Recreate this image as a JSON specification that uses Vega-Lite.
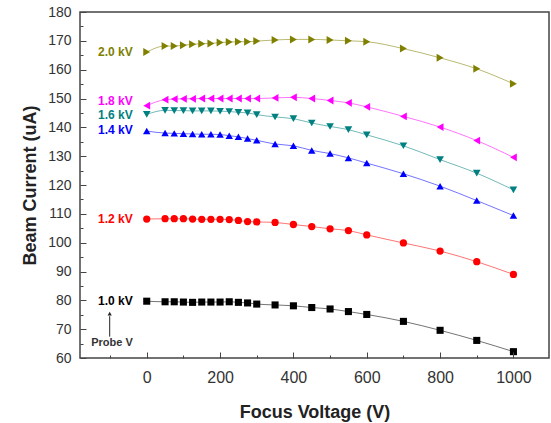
{
  "$schema": "https://vega.github.io/schema/vega-lite/v6.json",
  "width": 469,
  "height": 346,
  "autosize": "none",
  "padding": {"left": 80, "top": 12, "right": 2, "bottom": 65},
  "config": {
    "font": "Liberation Sans",
    "view": {"stroke": "#444444", "strokeWidth": 1.5}
  },
  "datasets": {
    "series": [
      {"kv": "1.0 kV", "v": 0, "i": 79.7}, {"kv": "1.0 kV", "v": 50, "i": 79.5}, {"kv": "1.0 kV", "v": 75, "i": 79.5}, {"kv": "1.0 kV", "v": 100, "i": 79.4}, {"kv": "1.0 kV", "v": 125, "i": 79.3}, {"kv": "1.0 kV", "v": 150, "i": 79.4}, {"kv": "1.0 kV", "v": 175, "i": 79.4}, {"kv": "1.0 kV", "v": 200, "i": 79.4}, {"kv": "1.0 kV", "v": 225, "i": 79.5}, {"kv": "1.0 kV", "v": 250, "i": 79.3}, {"kv": "1.0 kV", "v": 275, "i": 79.1}, {"kv": "1.0 kV", "v": 300, "i": 78.7}, {"kv": "1.0 kV", "v": 350, "i": 78.4}, {"kv": "1.0 kV", "v": 400, "i": 78.1}, {"kv": "1.0 kV", "v": 450, "i": 77.5}, {"kv": "1.0 kV", "v": 500, "i": 77.0}, {"kv": "1.0 kV", "v": 550, "i": 76.1}, {"kv": "1.0 kV", "v": 600, "i": 75.1}, {"kv": "1.0 kV", "v": 700, "i": 72.7}, {"kv": "1.0 kV", "v": 800, "i": 69.6}, {"kv": "1.0 kV", "v": 900, "i": 66.1}, {"kv": "1.0 kV", "v": 1000, "i": 62.2},
      {"kv": "1.2 kV", "v": 0, "i": 108.2}, {"kv": "1.2 kV", "v": 50, "i": 108.3}, {"kv": "1.2 kV", "v": 75, "i": 108.3}, {"kv": "1.2 kV", "v": 100, "i": 108.3}, {"kv": "1.2 kV", "v": 125, "i": 108.2}, {"kv": "1.2 kV", "v": 150, "i": 108.1}, {"kv": "1.2 kV", "v": 175, "i": 108.1}, {"kv": "1.2 kV", "v": 200, "i": 108.1}, {"kv": "1.2 kV", "v": 225, "i": 108.0}, {"kv": "1.2 kV", "v": 250, "i": 107.7}, {"kv": "1.2 kV", "v": 275, "i": 107.3}, {"kv": "1.2 kV", "v": 300, "i": 107.2}, {"kv": "1.2 kV", "v": 350, "i": 107.0}, {"kv": "1.2 kV", "v": 400, "i": 106.3}, {"kv": "1.2 kV", "v": 450, "i": 105.6}, {"kv": "1.2 kV", "v": 500, "i": 104.8}, {"kv": "1.2 kV", "v": 550, "i": 104.2}, {"kv": "1.2 kV", "v": 600, "i": 102.7}, {"kv": "1.2 kV", "v": 700, "i": 99.9}, {"kv": "1.2 kV", "v": 800, "i": 97.1}, {"kv": "1.2 kV", "v": 900, "i": 93.4}, {"kv": "1.2 kV", "v": 1000, "i": 89.0},
      {"kv": "1.4 kV", "v": 0, "i": 138.7}, {"kv": "1.4 kV", "v": 50, "i": 138.0}, {"kv": "1.4 kV", "v": 75, "i": 137.9}, {"kv": "1.4 kV", "v": 100, "i": 137.8}, {"kv": "1.4 kV", "v": 125, "i": 137.7}, {"kv": "1.4 kV", "v": 150, "i": 137.6}, {"kv": "1.4 kV", "v": 175, "i": 137.6}, {"kv": "1.4 kV", "v": 200, "i": 137.5}, {"kv": "1.4 kV", "v": 225, "i": 137.1}, {"kv": "1.4 kV", "v": 250, "i": 136.7}, {"kv": "1.4 kV", "v": 275, "i": 136.1}, {"kv": "1.4 kV", "v": 300, "i": 135.5}, {"kv": "1.4 kV", "v": 350, "i": 134.2}, {"kv": "1.4 kV", "v": 400, "i": 133.6}, {"kv": "1.4 kV", "v": 450, "i": 132.0}, {"kv": "1.4 kV", "v": 500, "i": 130.9}, {"kv": "1.4 kV", "v": 550, "i": 129.4}, {"kv": "1.4 kV", "v": 600, "i": 127.6}, {"kv": "1.4 kV", "v": 700, "i": 123.9}, {"kv": "1.4 kV", "v": 800, "i": 119.6}, {"kv": "1.4 kV", "v": 900, "i": 114.6}, {"kv": "1.4 kV", "v": 1000, "i": 109.4},
      {"kv": "1.6 kV", "v": 0, "i": 144.5}, {"kv": "1.6 kV", "v": 50, "i": 145.9}, {"kv": "1.6 kV", "v": 75, "i": 145.8}, {"kv": "1.6 kV", "v": 100, "i": 145.8}, {"kv": "1.6 kV", "v": 125, "i": 145.7}, {"kv": "1.6 kV", "v": 150, "i": 145.7}, {"kv": "1.6 kV", "v": 175, "i": 145.7}, {"kv": "1.6 kV", "v": 200, "i": 145.6}, {"kv": "1.6 kV", "v": 225, "i": 145.5}, {"kv": "1.6 kV", "v": 250, "i": 145.2}, {"kv": "1.6 kV", "v": 275, "i": 145.0}, {"kv": "1.6 kV", "v": 300, "i": 144.4}, {"kv": "1.6 kV", "v": 350, "i": 143.6}, {"kv": "1.6 kV", "v": 400, "i": 143.0}, {"kv": "1.6 kV", "v": 450, "i": 141.5}, {"kv": "1.6 kV", "v": 500, "i": 140.3}, {"kv": "1.6 kV", "v": 550, "i": 139.2}, {"kv": "1.6 kV", "v": 600, "i": 137.4}, {"kv": "1.6 kV", "v": 700, "i": 133.6}, {"kv": "1.6 kV", "v": 800, "i": 128.8}, {"kv": "1.6 kV", "v": 900, "i": 124.1}, {"kv": "1.6 kV", "v": 1000, "i": 118.3},
      {"kv": "1.8 kV", "v": 0, "i": 147.5}, {"kv": "1.8 kV", "v": 50, "i": 149.6}, {"kv": "1.8 kV", "v": 75, "i": 149.8}, {"kv": "1.8 kV", "v": 100, "i": 149.9}, {"kv": "1.8 kV", "v": 125, "i": 149.9}, {"kv": "1.8 kV", "v": 150, "i": 150.0}, {"kv": "1.8 kV", "v": 175, "i": 150.0}, {"kv": "1.8 kV", "v": 200, "i": 150.0}, {"kv": "1.8 kV", "v": 225, "i": 150.0}, {"kv": "1.8 kV", "v": 250, "i": 150.0}, {"kv": "1.8 kV", "v": 275, "i": 150.0}, {"kv": "1.8 kV", "v": 300, "i": 150.0}, {"kv": "1.8 kV", "v": 350, "i": 150.2}, {"kv": "1.8 kV", "v": 400, "i": 150.4}, {"kv": "1.8 kV", "v": 450, "i": 150.0}, {"kv": "1.8 kV", "v": 500, "i": 149.3}, {"kv": "1.8 kV", "v": 550, "i": 148.5}, {"kv": "1.8 kV", "v": 600, "i": 147.1}, {"kv": "1.8 kV", "v": 700, "i": 143.8}, {"kv": "1.8 kV", "v": 800, "i": 140.1}, {"kv": "1.8 kV", "v": 900, "i": 135.4}, {"kv": "1.8 kV", "v": 1000, "i": 129.6},
      {"kv": "2.0 kV", "v": 0, "i": 166.1}, {"kv": "2.0 kV", "v": 50, "i": 168.2}, {"kv": "2.0 kV", "v": 75, "i": 168.2}, {"kv": "2.0 kV", "v": 100, "i": 168.5}, {"kv": "2.0 kV", "v": 125, "i": 168.8}, {"kv": "2.0 kV", "v": 150, "i": 169.0}, {"kv": "2.0 kV", "v": 175, "i": 169.1}, {"kv": "2.0 kV", "v": 200, "i": 169.4}, {"kv": "2.0 kV", "v": 225, "i": 169.6}, {"kv": "2.0 kV", "v": 250, "i": 169.7}, {"kv": "2.0 kV", "v": 275, "i": 169.7}, {"kv": "2.0 kV", "v": 300, "i": 169.9}, {"kv": "2.0 kV", "v": 350, "i": 170.3}, {"kv": "2.0 kV", "v": 400, "i": 170.5}, {"kv": "2.0 kV", "v": 450, "i": 170.5}, {"kv": "2.0 kV", "v": 500, "i": 170.3}, {"kv": "2.0 kV", "v": 550, "i": 170.0}, {"kv": "2.0 kV", "v": 600, "i": 169.7}, {"kv": "2.0 kV", "v": 700, "i": 167.3}, {"kv": "2.0 kV", "v": 800, "i": 164.1}, {"kv": "2.0 kV", "v": 900, "i": 160.3}, {"kv": "2.0 kV", "v": 1000, "i": 155.1}
    ],
    "labels": [
      {"kv": "2.0 kV", "v": -38, "i": 166.1},
      {"kv": "1.8 kV", "v": -38, "i": 149.2},
      {"kv": "1.6 kV", "v": -38, "i": 144.3},
      {"kv": "1.4 kV", "v": -38, "i": 139.1},
      {"kv": "1.2 kV", "v": -38, "i": 108.2},
      {"kv": "1.0 kV", "v": -38, "i": 79.8}
    ],
    "probe": [{"t": "Probe V", "v": -38, "i": 65.1}],
    "arrow": [{"v": -101, "i": 67.4, "i2": 74.5}],
    "arrowhead": [{"v": -101, "i": 75.4}]
  },
  "resolve": {"axis": {"x": "independent", "y": "independent"}},
  "layer": [
    {
      "encoding": {
        "x": {
          "field": "v", "type": "quantitative",
          "scale": {"domain": [-182, 1097], "nice": false, "zero": false},
          "axis": {
            "orient": "bottom",
            "title": "Focus Voltage (V)",
            "titleFontSize": 18, "titleFontWeight": "bold", "titleColor": "#222", "titlePadding": 18,
            "values": [0, 200, 400, 600, 800, 1000],
            "format": "d",
            "labelOverlap": false,
            "labelFontSize": 16, "labelColor": "#333", "labelPadding": 11,
            "ticks": true, "tickSize": 6, "offset": -6,
            "tickColor": "#444", "tickWidth": 1,
            "domain": false, "grid": false, "zindex": 2
          }
        },
        "y": {
          "field": "i", "type": "quantitative",
          "scale": {"domain": [60, 180], "nice": false, "zero": false},
          "axis": {
            "orient": "left",
            "title": "Beam Current (uA)",
            "titleFontSize": 18, "titleFontWeight": "bold", "titleColor": "#222", "titlePadding": 8,
            "values": [60, 70, 80, 90, 100, 110, 120, 130, 140, 150, 160, 170, 180],
            "labelOverlap": false,
            "labelFontSize": 14, "labelColor": "#333", "labelPadding": 9,
            "ticks": true, "tickSize": 6, "offset": -6,
            "tickColor": "#444", "tickWidth": 1,
            "domain": false, "grid": false, "zindex": 2
          }
        }
      },
      "layer": [
        {
          "data": {"name": "series"},
          "mark": {"type": "line", "interpolate": "monotone", "strokeWidth": 1, "opacity": 0.55},
          "encoding": {
            "color": {
              "field": "kv", "type": "nominal",
              "scale": {"domain": ["1.0 kV", "1.2 kV", "1.4 kV", "1.6 kV", "1.8 kV", "2.0 kV"], "range": ["#000000", "#ff0000", "#0000ff", "#008080", "#ff00ff", "#808000"]},
              "legend": null
            }
          }
        },
        {
          "data": {"name": "series"},
          "mark": {"type": "point", "filled": true, "opacity": 1},
          "encoding": {
            "color": {"field": "kv", "type": "nominal", "legend": null},
            "shape": {
              "field": "kv", "type": "nominal",
              "scale": {"domain": ["1.0 kV", "1.2 kV", "1.4 kV", "1.6 kV", "1.8 kV", "2.0 kV"], "range": ["square", "circle", "triangle-up", "triangle-down", "triangle-left", "triangle-right"]},
              "legend": null
            },
            "size": {
              "field": "kv", "type": "nominal",
              "scale": {"domain": ["1.0 kV", "1.2 kV", "1.4 kV", "1.6 kV", "1.8 kV", "2.0 kV"], "range": [50, 64, 95, 95, 95, 95]},
              "legend": null
            }
          }
        },
        {
          "data": {"name": "labels"},
          "mark": {"type": "text", "align": "right", "baseline": "middle", "fontWeight": "bold", "fontSize": 12},
          "encoding": {
            "text": {"field": "kv"},
            "color": {"field": "kv", "type": "nominal", "legend": null}
          }
        },
        {
          "data": {"name": "probe"},
          "mark": {"type": "text", "align": "right", "baseline": "middle", "fontWeight": "bold", "fontSize": 11, "color": "#333"},
          "encoding": {
            "text": {"field": "t"}
          }
        },
        {
          "data": {"name": "arrow"},
          "mark": {"type": "rule", "color": "#222", "strokeWidth": 1},
          "encoding": {
            "y2": {"field": "i2"}
          }
        },
        {
          "data": {"name": "arrowhead"},
          "mark": {"type": "point", "shape": "triangle-up", "filled": true, "color": "#222", "size": 18, "opacity": 1},
          "encoding": {}
        }
      ]
    },
    {
      "data": {"name": "arrowhead"},
      "mark": {"type": "point", "opacity": 0},
      "encoding": {
        "x": {
          "field": "v", "type": "quantitative",
          "scale": {"domain": [-182, 1097], "nice": false, "zero": false},
          "axis": {
            "orient": "bottom", "title": null, "labels": false,
            "values": [-100, 100, 300, 500, 700, 900],
            "ticks": true, "tickSize": 3, "offset": -3,
            "tickColor": "#444", "tickWidth": 1,
            "domain": false, "grid": false, "zindex": 2
          }
        },
        "y": {
          "field": "i", "type": "quantitative",
          "scale": {"domain": [60, 180], "nice": false, "zero": false},
          "axis": {
            "orient": "left", "title": null, "labels": false,
            "values": [65, 75, 85, 95, 105, 115, 125, 135, 145, 155, 165, 175],
            "ticks": true, "tickSize": 3, "offset": -3,
            "tickColor": "#444", "tickWidth": 1,
            "domain": false, "grid": false, "zindex": 2
          }
        }
      }
    }
  ]
}
